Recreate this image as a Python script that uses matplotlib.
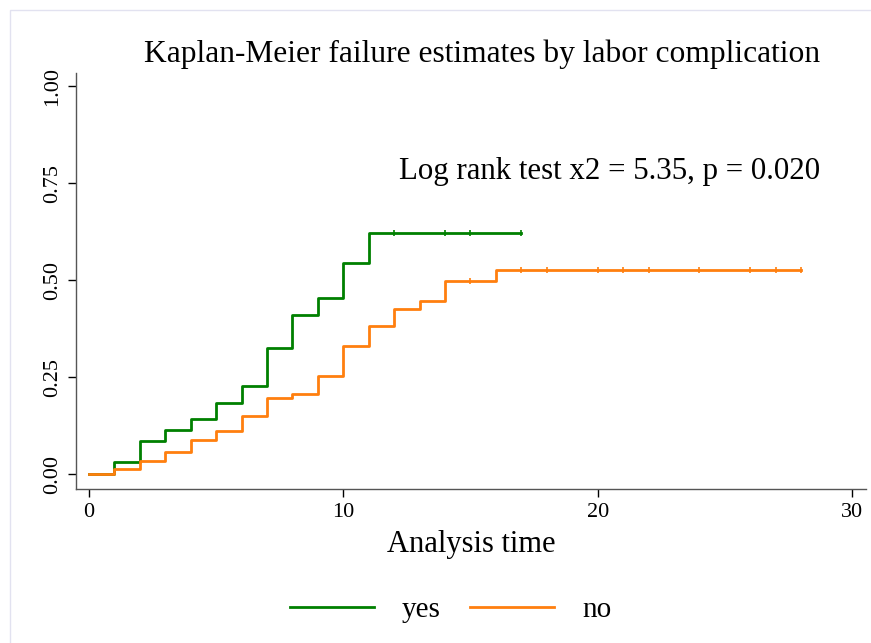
import matplotlib
matplotlib.use("Agg")
import matplotlib.pyplot as plt
from matplotlib.patches import Rectangle

# Data
yes_times = [0, 1, 2, 3, 4, 5, 6, 7, 8, 9, 10, 11, 17]
yes_fail = [0.0, 0.032, 0.085, 0.113, 0.143, 0.184, 0.228, 0.325, 0.410, 0.454, 0.545, 0.621, 0.621]
yes_censor = [12, 14, 15, 17]

no_times = [0, 1, 2, 3, 4, 5, 6, 7, 8, 9, 10, 11, 12, 13, 14, 16, 28]
no_fail = [0.0, 0.014, 0.035, 0.057, 0.088, 0.111, 0.149, 0.196, 0.206, 0.253, 0.331, 0.381, 0.425, 0.447, 0.497, 0.527, 0.527]
no_censor = [15, 17, 18, 20, 21, 22, 24, 26, 27, 28]

x_ticks = [0, 10, 20, 30]
y_ticks = [0.0, 0.25, 0.50, 0.75, 1.00]

title = "Kaplan-Meier failure estimates by labor complication"
annot = "Log rank test x2 = 5.35, p = 0.020"
xlabel = "Analysis time"

plt.rcParams['font.family'] = ['Liberation Serif', 'DejaVu Serif']

fig = plt.figure(figsize=(8.71, 6.43), dpi=100)
fig.patch.set_facecolor('white')
fig.add_artist(Rectangle((10/871, -0.01), 1.0, 1 - 10/643 + 0.01, transform=fig.transFigure,
                         fill=False, edgecolor='#e2e2f0', lw=1.0))

ax = fig.add_axes([76/871, 1 - 489/643, (866-76)/871, (489-72.7)/643])

green = '#008000'
orange = '#ff7f0e'

def val_at(times, vals, t):
    v = vals[0]
    for tt, vv in zip(times, vals):
        if tt <= t:
            v = vv
    return v

l1, = ax.step(yes_times, yes_fail, where='post', color=green, lw=2.0, label='yes')
l2, = ax.step(no_times, no_fail, where='post', color=orange, lw=2.0, label='no')
ax.plot(yes_censor, [val_at(yes_times, yes_fail, t) for t in yes_censor], ls='none',
        marker='|', color=green, ms=4, mew=1.2)
ax.plot(no_censor, [val_at(no_times, no_fail, t) for t in no_censor], ls='none',
        marker='|', color=orange, ms=4, mew=1.2)

ax.set_xlim(-0.51, 30.55)
ax.set_ylim(-0.038, 1.035)
ax.set_xticks(x_ticks)
ax.set_xticklabels([str(t) for t in x_ticks])
ax.set_yticks(y_ticks)
ax.set_yticklabels([f"{t:.2f}" for t in y_ticks], rotation=90, va='center')
ax.tick_params(axis='both', direction='out', length=6, width=1.0, labelsize=16, color='black')
ax.tick_params(axis='y', pad=4)
ax.tick_params(axis='x', pad=4)
for s in ['top', 'right']:
    ax.spines[s].set_visible(False)
for s in ['left', 'bottom']:
    ax.spines[s].set_color('#555555')
    ax.spines[s].set_linewidth(1.0)

ax.set_xlabel(xlabel, fontsize=22, labelpad=6)
fig.text(482/871, 1 - 54/643, title, ha='center', va='center', fontsize=22.7)
fig.text(820/871, 1 - 171/643, annot, ha='right', va='center', fontsize=22.2)

fig.legend(handles=[l1, l2], labels=['yes', 'no'], loc='center', bbox_to_anchor=(450.5/871, 1 - 610/643),
           ncol=2, frameon=False, fontsize=21, handlelength=2.9, handletextpad=0.95, columnspacing=1.0)

fig.savefig('out.png', dpi=100, facecolor='white')
